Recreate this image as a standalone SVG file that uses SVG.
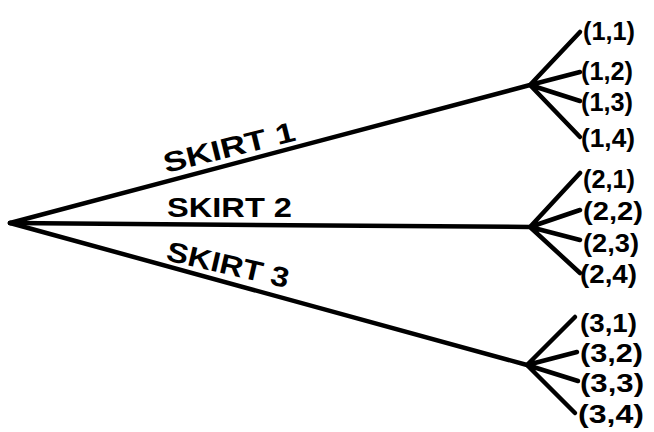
<svg xmlns="http://www.w3.org/2000/svg" width="654" height="432" viewBox="0 0 654 432">
<style>
.c{stroke:#000;stroke-width:4.5;stroke-linecap:round;fill:none}
.t{font-family:"Liberation Sans",Arial,sans-serif;font-weight:bold;fill:#000}
.lf{font-size:26px}
.sk{font-size:28px}
</style>
<rect width="654" height="432" fill="#fff"/>
<g id="connectors">
<path class="c" d="M10 223 L530 85"/>
<path class="c" d="M10 223 L530 227"/>
<path class="c" d="M10 223 L527 365"/>
<path class="c" d="M530 85 L580 32 M530 85 L580 72 M530 85 L580 101 M530 85 L580 137"/>
<path class="c" d="M530 227 L580 173 M530 227 L580 210 M530 227 L580 240 M530 227 L580 273"/>
<path class="c" d="M527 365 L575 317 M527 365 L577 352 M527 365 L578 381 M527 365 L575 413"/>
</g>
<g id="root"><circle cx="10" cy="223" r="2" fill="#000"/></g>
<g id="skirt1"><text class="t sk" transform="translate(166 173) rotate(-14)" textLength="135" lengthAdjust="spacingAndGlyphs">SKIRT  1</text></g>
<g id="skirt2"><text class="t sk" x="167" y="217" textLength="125" lengthAdjust="spacingAndGlyphs">SKIRT  2</text></g>
<g id="skirt3"><text class="t sk" transform="translate(165 260) rotate(13)" textLength="125" lengthAdjust="spacingAndGlyphs">SKIRT 3</text></g>
<g id="n11"><text class="t lf" x="583" y="40" textLength="52" lengthAdjust="spacingAndGlyphs">(1,1)</text></g>
<g id="n12"><text class="t lf" x="581" y="80" textLength="52" lengthAdjust="spacingAndGlyphs">(1,2)</text></g>
<g id="n13"><text class="t lf" x="581" y="111" textLength="52" lengthAdjust="spacingAndGlyphs">(1,3)</text></g>
<g id="n14"><text class="t lf" x="581" y="147" textLength="54" lengthAdjust="spacingAndGlyphs">(1,4)</text></g>
<g id="n21"><text class="t lf" x="583" y="188" textLength="52" lengthAdjust="spacingAndGlyphs">(2,1)</text></g>
<g id="n22"><text class="t lf" x="583" y="220" textLength="60" lengthAdjust="spacingAndGlyphs">(2,2)</text></g>
<g id="n23"><text class="t lf" x="583" y="252" textLength="56" lengthAdjust="spacingAndGlyphs">(2,3)</text></g>
<g id="n24"><text class="t lf" x="580" y="283" textLength="57" lengthAdjust="spacingAndGlyphs">(2,4)</text></g>
<g id="n31"><text class="t lf" x="580" y="332" textLength="57" lengthAdjust="spacingAndGlyphs">(3,1)</text></g>
<g id="n32"><text class="t lf" x="580" y="362" textLength="63" lengthAdjust="spacingAndGlyphs">(3,2)</text></g>
<g id="n33"><text class="t lf" x="580" y="392" textLength="64" lengthAdjust="spacingAndGlyphs">(3,3)</text></g>
<g id="n34"><text class="t lf" x="578" y="423" textLength="66" lengthAdjust="spacingAndGlyphs">(3,4)</text></g>
</svg>
